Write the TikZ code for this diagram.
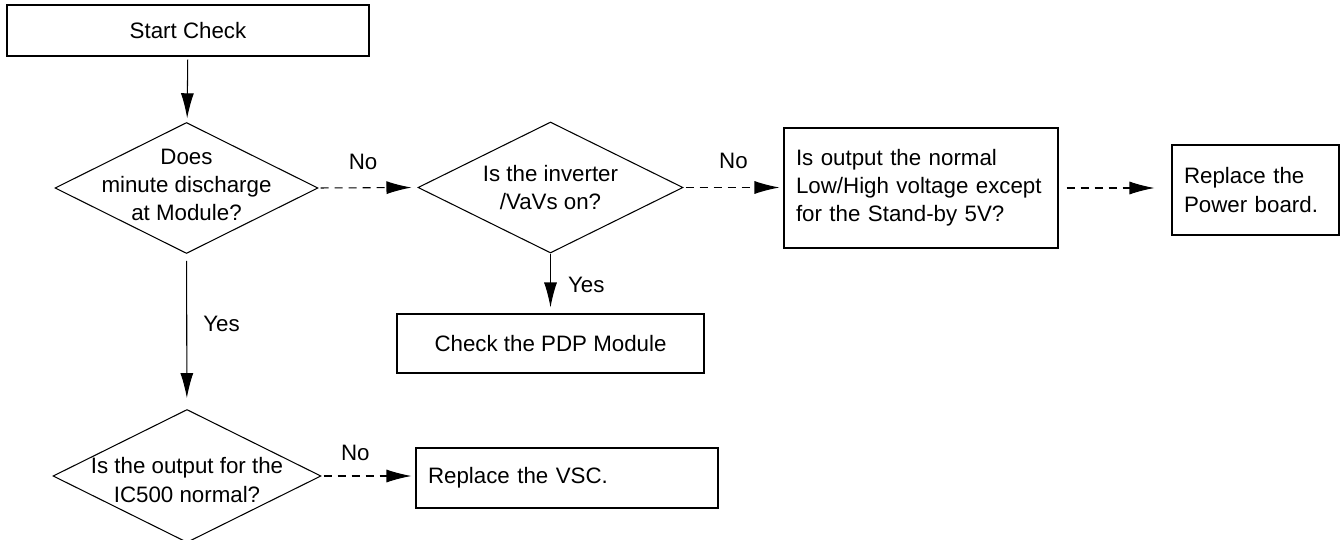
\documentclass[tikz,border=0pt]{standalone}
\usepackage{fontspec}
\setmainfont{Liberation Sans}
\usetikzlibrary{shapes.geometric,arrows.meta}

\tikzset{
  box/.style={draw, line width=0.6pt, inner sep=0pt, align=center},
  leftbox/.style={draw, line width=0.6pt, inner xsep=0.24cm, inner ysep=0pt, align=left},
  decision/.style={draw, diamond, line width=0.6pt, inner sep=0pt},
  dtext/.style={inner sep=0pt, align=center},
  lbl/.style={inner sep=0pt},
  flow/.style={line width=0.6pt, -{Latex[length=0.5cm,width=0.26cm]}},
  noflow/.style={flow, dash pattern=on 0.16cm off 0.12cm}
}

\begin{document}
\begin{tikzpicture}[font=\fontsize{12.7}{16}\selectfont]
	\useasboundingbox (0,0) rectangle (26.88,-10.8);
	% boxes and decisions
	\node[box, minimum width=7.24cm, minimum height=1.02cm] (start) at (3.76,-0.61) {Start Check};
	\node[decision, minimum width=5.26cm, minimum height=2.62cm] (dec1) at (3.73,-3.76) {};
	\node[dtext] (dec1txt) at (3.73,-3.70) {Does\\minute discharge\\at Module?};
	\node[decision, minimum width=5.30cm, minimum height=2.62cm] (dec2) at (11.01,-3.75) {};
	\node[dtext] (dec2txt) at (dec2) {Is the inverter\\/VaVs on?};
	\node[box, minimum width=6.14cm, minimum height=1.18cm] (pdp) at (11.01,-6.87) {Check the PDP Module};
	\node[leftbox, text width=5.0cm, minimum height=2.4cm] (lowhigh) at (18.42,-3.76) {Is output the normal\\Low/High voltage except\\for the Stand-by 5V?};
	\node[leftbox, text width=2.86cm, minimum height=1.8cm] (power) at (25.11,-3.80) {Replace the\\Power board.};
	\node[decision, minimum width=5.36cm, minimum height=2.66cm] (dec3) at (3.74,-9.52) {};
	\node[dtext] (dec3txt) at (3.74,-9.60) {Is the output for the\\IC500 normal?};
	\node[leftbox, text width=5.56cm, minimum height=1.2cm] (vsc) at (11.34,-9.56) {Replace the VSC.};
	% connectors
	\draw[flow, shorten <=0.06cm, shorten >=0.08cm] (start) -- (dec1);
	\draw[flow, shorten <=0.14cm, shorten >=0.22cm] (dec1) -- node[lbl, right=0.32cm, pos=0.45] (yes1) {Yes} (dec3);
	\draw[noflow, shorten <=0.04cm, shorten >=0.12cm] (dec1.east) -- node[lbl, above=0.36cm, pos=0.45] (no1) {No} (dec2.west);
	\draw[noflow, shorten <=0.04cm, shorten >=0.08cm] (dec2.east) -- node[lbl, above=0.36cm, pos=0.5] (no2) {No} (dec2.east -| lowhigh.west);
	\draw[noflow, shorten <=0.16cm, shorten >=0.34cm] (lowhigh.east) -- (lowhigh.east -| power.west);
	\draw[flow, shorten >=0.12cm] (dec2.south) -- node[lbl, right=0.34cm, pos=0.52] (yes2) {Yes} (pdp.north);
	\draw[noflow, shorten <=0.04cm, shorten >=0.08cm] (dec3.east) -- node[lbl, above=0.3cm, pos=0.36] (no3) {No} (dec3.east -| vsc.west);
\end{tikzpicture}
\end{document}
